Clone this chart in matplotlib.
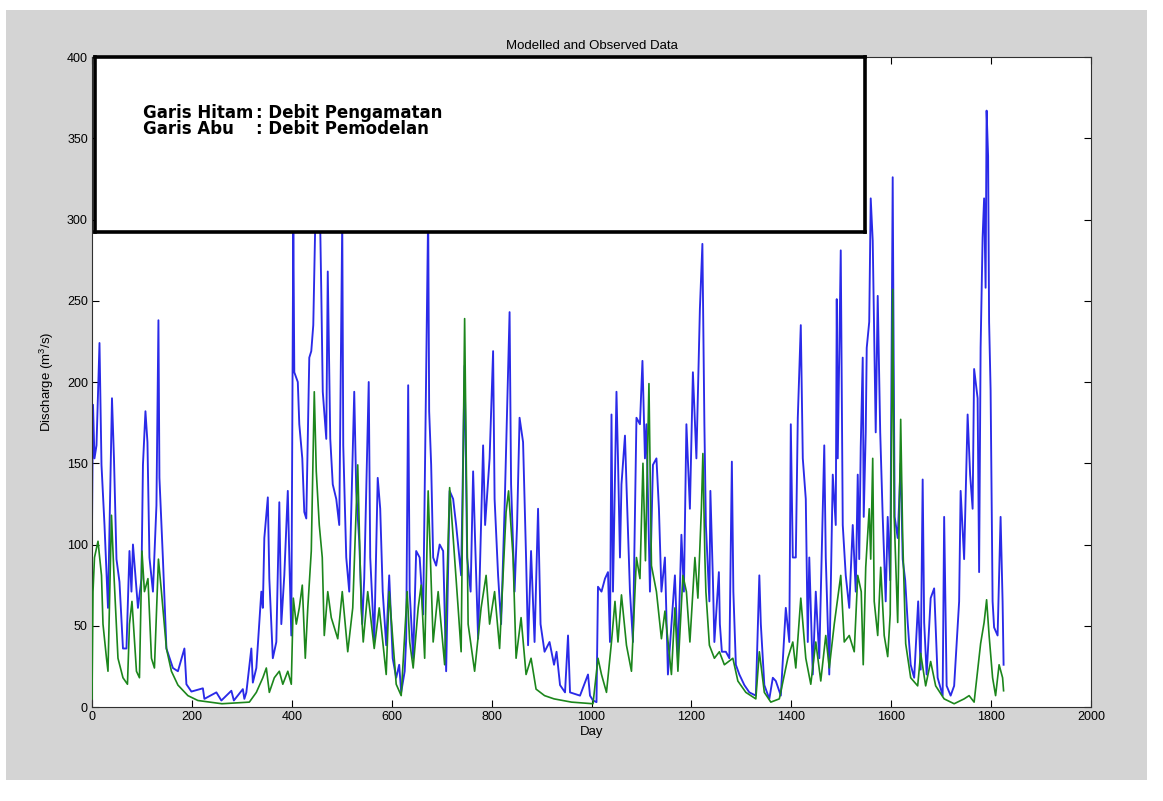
import matplotlib
matplotlib.use('Agg')
import matplotlib.pyplot as plt
from matplotlib.patches import Rectangle

# ---------------- data ----------------
obs_day = [0, 2, 5, 9, 15, 19, 25, 32, 40, 44, 49, 55, 62, 69, 75, 79, 82, 92, 99, 102,
           107, 111, 115, 122, 129, 133, 135, 142, 149, 162, 172, 185, 189, 199, 222, 225,
           249, 259, 279, 284, 302, 305, 309, 319, 322, 329, 339, 342, 345, 352, 355, 362,
           369, 375, 379, 385, 392, 395, 399, 403, 405, 412, 415, 421, 425, 429, 435, 439,
           443, 449, 454, 459, 462, 469, 472, 477, 482, 489, 495, 501, 503, 509, 515, 525,
           529, 535, 541, 545, 554, 557, 565, 572, 577, 582, 589, 595, 602, 609, 615, 619,
           626, 629, 633, 636, 643, 649, 656, 663, 673, 675, 679, 683, 689, 696, 703, 709,
           716, 723, 729, 739, 746, 751, 758, 763, 767, 773, 783, 787, 796, 803, 806, 813,
           819, 826, 836, 839, 846, 851, 856, 863, 869, 873, 879, 886, 893, 898, 906, 916,
           925, 930, 937, 947, 953, 957, 977, 993, 997, 1003, 1010, 1013, 1020, 1027, 1033,
           1037, 1040, 1043, 1050, 1053, 1057, 1060, 1067, 1070, 1077, 1083, 1090, 1097,
           1102, 1107, 1110, 1117, 1123, 1130, 1135, 1140, 1147, 1153, 1167, 1173, 1180,
           1185, 1190, 1197, 1203, 1210, 1217, 1222, 1226, 1229, 1236, 1238, 1243, 1246,
           1255, 1257, 1261, 1269, 1276, 1281, 1284, 1289, 1296, 1306, 1316, 1329, 1336,
           1339, 1346, 1356, 1363, 1369, 1379, 1389, 1396, 1399, 1403, 1409, 1413, 1416,
           1419, 1423, 1429, 1433, 1436, 1443, 1449, 1456, 1466, 1469, 1476, 1483, 1489,
           1491, 1493, 1499, 1503, 1509, 1516, 1523, 1526, 1529, 1533, 1536, 1539, 1543,
           1545, 1549, 1551, 1556, 1559, 1563, 1566, 1569, 1573, 1578, 1583, 1589, 1593,
           1598, 1603, 1605, 1607, 1613, 1619, 1623, 1628, 1633, 1639, 1646, 1654, 1659,
           1663, 1666, 1671, 1679, 1686, 1693, 1703, 1706, 1711, 1719, 1726, 1736, 1739,
           1746, 1753, 1758, 1763, 1766, 1773, 1776, 1779, 1783, 1786, 1789, 1791, 1794,
           1796, 1799, 1803, 1806, 1813, 1819, 1823, 1825]
obs_val = [110, 186, 153, 161, 224, 149, 112, 61, 190, 153, 91, 77, 36, 36, 96, 71, 100, 61, 79, 149,
           182, 163, 92, 71, 124, 238, 141, 91, 36, 24, 22, 36, 14, 9.5, 11.5, 5,
           9, 4, 10, 4, 11, 5, 9, 36, 15, 24, 71, 61, 104, 129, 79, 30,
           40, 126, 51, 81, 133, 92, 44, 300, 206, 200, 174, 153, 120, 116, 215, 219,
           235, 330, 350, 256, 194, 165, 268, 165, 137, 128, 112, 300, 161, 92, 71, 194,
           133, 102, 51, 79, 200, 92, 40, 141, 122, 71, 38, 81, 30, 18, 26, 9,
           22, 42, 198, 71, 30, 96, 92, 57, 305, 182, 149, 92, 87, 100, 96, 22,
           133, 128, 112, 81, 210, 92, 71, 145, 102, 42, 161, 112, 153, 219, 128, 81,
           51, 122, 243, 137, 71, 112, 178, 163, 92, 38, 96, 40, 122, 51, 34, 40,
           26, 34, 13.5, 9, 44, 9, 7, 20, 7, 4, 3, 74, 71, 79, 83,
           40, 180, 71, 194, 153, 92, 137, 167, 137, 71, 40, 178, 174,
           213, 153, 174, 71, 149, 153, 122, 71, 92, 20, 81, 30, 106,
           71, 174, 122, 206, 153, 245, 285, 174, 112, 65, 133, 79, 40,
           83, 51, 34, 34, 30, 151, 71, 26, 20, 13.5, 9, 7, 81,
           51, 13.5, 5, 18, 16, 7, 61, 40, 174, 92, 92, 178, 206,
           235, 153, 128, 40, 92, 20, 71, 30, 161, 92, 20, 143, 112,
           251, 153, 281, 112, 81, 61, 112, 91, 71, 143, 91, 160, 215,
           117, 169, 221, 237, 313, 287, 226, 169, 253, 169, 117, 65, 117,
           78, 326, 211, 117, 104, 150, 91, 78, 52, 26, 18, 65, 23,
           140, 52, 20, 67, 73, 18, 7, 117, 13, 7, 13, 65, 133,
           91, 180, 143, 122, 208, 190, 83, 221, 289, 313, 258, 367, 339,
           237, 195, 65, 49, 44, 117, 65, 26]

mod_day = [0, 2, 5, 12, 19, 22, 29, 32, 39, 44, 52, 62, 71, 75, 80, 89, 95, 100, 105, 112,
           119, 125, 133, 139, 149, 159, 172, 192, 212, 260, 315, 329, 342, 349, 355, 365,
           375, 382, 392, 399, 403, 409, 415, 421, 427, 432, 439, 445, 449, 455, 461, 465,
           472, 479, 492, 501, 512, 522, 532, 539, 543, 552, 565, 575, 589, 595, 609, 619,
           631, 636, 643, 653, 659, 666, 673, 683, 693, 706, 716, 726, 733, 739, 746, 753,
           766, 779, 789, 796, 806, 816, 829, 834, 843, 849, 859, 869, 879, 889, 906, 925,
           960, 1003, 1013, 1020, 1030, 1040, 1047, 1053, 1060, 1070, 1080, 1090, 1097,
           1103, 1108, 1115, 1120, 1130, 1140, 1147, 1160, 1167, 1173, 1183, 1190, 1197,
           1207, 1213, 1220, 1223, 1227, 1229, 1236, 1246, 1256, 1266, 1283, 1293, 1309,
           1329, 1336, 1346, 1359, 1376, 1393, 1403, 1409, 1419, 1429, 1439, 1449, 1459,
           1469, 1476, 1486, 1499, 1506, 1516, 1526, 1533, 1540, 1544, 1549, 1556, 1559,
           1563, 1566, 1573, 1579, 1586, 1593, 1598, 1603, 1606, 1613, 1619, 1623, 1629,
           1639, 1653, 1659, 1669, 1679, 1689, 1706, 1726, 1746, 1756, 1766, 1779, 1786,
           1791, 1796, 1803, 1809, 1816, 1823, 1825]
mod_val = [5, 71, 92, 102, 81, 51, 30, 22, 118, 81, 30, 18, 14, 51, 65, 22, 18, 96, 71, 79,
           30, 24, 91, 71, 36, 22, 13.5, 7, 4, 2, 3, 9, 18, 24, 9, 18,
           22, 14, 22, 14, 67, 51, 61, 75, 30, 61, 96, 194, 145, 112, 92, 44,
           71, 55, 42, 71, 34, 61, 149, 61, 40, 71, 36, 61, 20, 71, 14, 7,
           71, 40, 24, 61, 75, 30, 133, 40, 71, 26, 135, 92, 61, 34, 239, 51,
           22, 61, 81, 51, 71, 36, 120, 133, 92, 30, 55, 20, 30, 11, 7, 5,
           3, 2, 30, 20, 9, 40, 65, 40, 69, 38, 22, 92, 79,
           150, 90, 199, 87, 71, 42, 59, 20, 61, 22, 81, 71, 40,
           92, 67, 122, 156, 92, 71, 38, 30, 34, 26, 30, 16, 9,
           5, 34, 9, 3, 5, 30, 40, 24, 67, 30, 14, 40, 16,
           44, 24, 51, 81, 40, 44, 34, 81, 71, 26, 86, 122, 91,
           153, 65, 44, 86, 44, 31, 57, 257, 117, 52, 177, 104, 39,
           18, 13, 33, 13, 28, 13, 5, 2, 5, 7, 3, 39, 52,
           66, 44, 18, 7, 26, 18, 10]

x_ticks = [0, 200, 400, 600, 800, 1000, 1200, 1400, 1600, 1800, 2000]
y_ticks = [0, 50, 100, 150, 200, 250, 300, 350, 400]
title_text = 'Modelled and Observed Data'
x_label = 'Day'
y_label = 'Discharge (m$^3$/s)'
legend_lines = [('Garis Hitam', ': Debit Pengamatan'), ('Garis Abu', ': Debit Pemodelan')]

# ---------------- fonts ----------------
plt.rcParams['font.family'] = ['Liberation Sans', 'DejaVu Sans']
plt.rcParams['mathtext.fontset'] = 'custom'
plt.rcParams['mathtext.rm'] = 'Liberation Sans'

W, H = 1163, 801
fig = plt.figure(figsize=(W / 100, H / 100), dpi=100, facecolor='white')

# grey MATLAB-like panel
fig.add_artist(Rectangle((6 / W, 1 - 780 / H), (1147 - 6) / W, (780 - 10) / H,
                         transform=fig.transFigure, facecolor='#d4d4d4',
                         edgecolor='none', zorder=-10))

ax = fig.add_axes([92 / W, 1 - 707 / H, (1091 - 92) / W, (707 - 57) / H])
ax.set_facecolor('white')

ax.plot(obs_day, obs_val, color='#2a2ae8', lw=1.35, zorder=2)
ax.plot(mod_day, mod_val, color='#1c861c', lw=1.2, zorder=3)

ax.set_xlim(0, 2000)
ax.set_ylim(0, 400)
ax.set_xticks(x_ticks)
ax.set_yticks(y_ticks)
ax.tick_params(direction='in', length=5, width=0.8, top=True, right=True,
               labelsize=9, colors='black', pad=3)
for s in ax.spines.values():
    s.set_linewidth(0.8)
    s.set_color('#303030')

ax.set_title(title_text, fontsize=9.5, pad=6)
ax.set_xlabel(x_label, fontsize=9.5, labelpad=2)
ax.set_ylabel(y_label, fontsize=9.5, labelpad=8)

# annotation box (white, thick black frame) covering top-left of the plot
box_ax = fig.add_axes([95 / W, 1 - 232 / H, (865 - 95) / W, (232 - 57) / H])
box_ax.set_xlim(0, 1)
box_ax.set_ylim(0, 1)
box_ax.set_xticks([])
box_ax.set_yticks([])
box_ax.set_facecolor('white')
box_ax.set_zorder(5)
for s in box_ax.spines.values():
    s.set_linewidth(2.6)
    s.set_color('black')

lab_font = dict(family=['DejaVu Sans'], fontsize=12, fontweight='bold',
                color='black', va='center', ha='left')
ys = [1 - (113 - 57) / 175, 1 - (129 - 57) / 175]
for (name, desc), yy in zip(legend_lines, ys):
    box_ax.text((143 - 95) / 770, yy, name, **lab_font)
    box_ax.text((256 - 95) / 770, yy, desc, **lab_font)

fig.savefig('out.png', dpi=100, facecolor='white')
